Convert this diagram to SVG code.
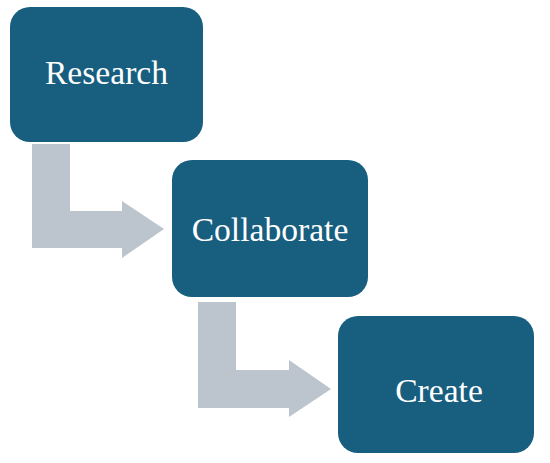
<svg xmlns="http://www.w3.org/2000/svg" width="550" height="463" viewBox="0 0 550 463">
<style>
.box{fill:#175E7F}
.lbl{fill:#ffffff;font-family:"Liberation Serif","Times New Roman",serif;font-size:33.6px;text-anchor:middle}
.arr{fill:#BCC5CD}
</style>
<rect width="550" height="463" fill="#ffffff"/>
<g id="connectors">
<path class="arr" d="M32,144 H70 V211 H122 V201 L164,229 L122,258 V248 H32 Z"/>
<path class="arr" d="M198,302 H236 V370 H289 V360 L331,389 L289,417 V408 H198 Z"/>
</g>
<g id="research">
<rect class="box" x="10" y="7" width="193" height="135" rx="20"/>
<text class="lbl" x="106.5" y="84">Research</text>
</g>
<g id="collaborate">
<rect class="box" x="172" y="160" width="196" height="137" rx="20"/>
<text class="lbl" x="270" y="241">Collaborate</text>
</g>
<g id="create">
<rect class="box" x="338" y="316" width="196" height="137" rx="20"/>
<text class="lbl" x="439" y="402">Create</text>
</g>
</svg>
